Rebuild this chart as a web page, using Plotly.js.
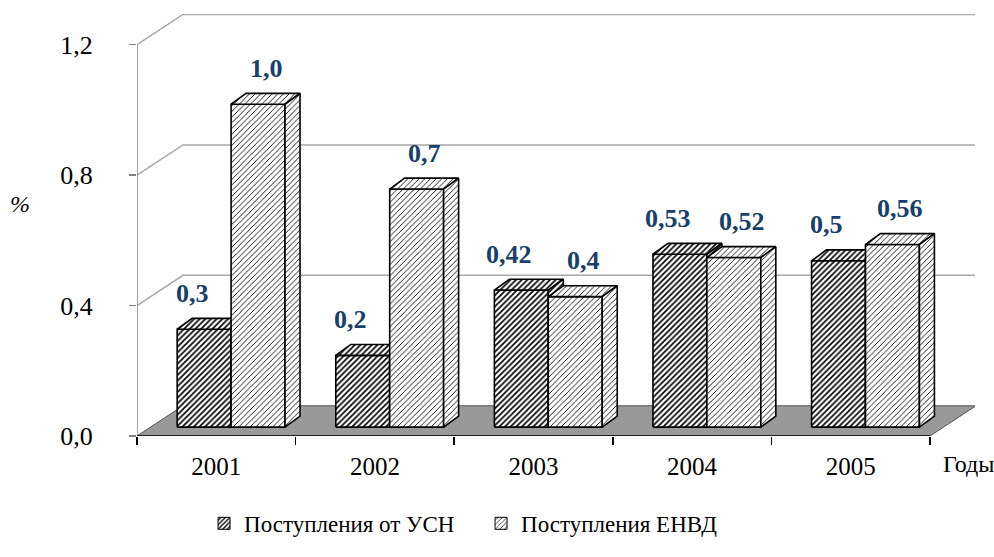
<!DOCTYPE html>
<html>
<head>
<meta charset="utf-8">
<script src="https://cdn.plot.ly/plotly-3.0.1.min.js"></script>
<style>html,body{margin:0;padding:0;background:#fff;}#chart{width:994px;height:557px;}</style>
</head>
<body>
<div id="chart"></div>
<script>
// ---- data ----
var years = ['2001', '2002', '2003', '2004', '2005'];
var usnValues = [0.30, 0.22, 0.42, 0.53, 0.51];
var envdValues = [0.99, 0.73, 0.40, 0.52, 0.56];
var usnLabels = ['0,3', '0,2', '0,42', '0,53', '0,5'];
var envdLabels = ['1,0', '0,7', '0,4', '0,52', '0,56'];
var seriesNames = ['Поступления от УСН', 'Поступления ЕНВД'];
var yTickVals = [0, 0.4, 0.8, 1.2];
var yTickText = ['0,0', '0,4', '0,8', '1,2'];

// ---- geometry (pixel scales of the axes) ----
var PX = 158.6;          // px per x unit
var PY = 329.17;         // px per y unit
var XMAX = 838 / PX;
var YMAX = 426 / PY;
var wallDX = 46 / PX, wallDY = 30.5 / PY;   // depth of the whole box
var fX = 14 / PX, fY = 9 / PY;              // bar front plane offset
var dX = 15 / PX, dY = 11 / PY;             // bar depth
var gap = 0.165, bw = 0.34;
var font = 'Liberation Serif';

var styles = [
  {shape: '/', fgcolor: '#000', bgcolor: '#fff', size: 4, solidity: 0.42},
  {shape: '/', fgcolor: '#000', bgcolor: '#fff', size: 4, solidity: 0.22}
];

var traces = [];
function face(pts, st) {
  var xs = pts.map(function (p) { return p[0]; });
  var ys = pts.map(function (p) { return p[1]; });
  xs.push(pts[0][0]); ys.push(pts[0][1]);
  traces.push({
    type: 'scatter', mode: 'lines', x: xs, y: ys, fill: 'toself',
    fillcolor: '#fff', fillpattern: st,
    line: {color: '#000', width: 1.6}, hoverinfo: 'skip', showlegend: false
  });
}
var annotations = [];
var series = [usnValues, envdValues];
var labels = [usnLabels, envdLabels];
var labShift = [-12, 8];
for (var i = 0; i < years.length; i++) {
  for (var s = 0; s < 2; s++) {
    var v = series[s][i];
    var x0 = i + gap + s * bw + fX, x1 = x0 + bw;
    var b = fY, t = fY + v;
    var st = styles[s];
    face([[x0, b], [x1, b], [x1, t], [x0, t]], st);
    face([[x0, t], [x1, t], [x1 + dX, t + dY], [x0 + dX, t + dY]], st);
    face([[x1, b], [x1 + dX, b + dY], [x1 + dX, t + dY], [x1, t]], st);
    annotations.push({
      x: (x0 + x1) / 2, y: t, xref: 'x', yref: 'y', text: labels[s][i],
      showarrow: false, xanchor: 'center', yanchor: 'middle',
      xshift: labShift[s], yshift: 36,
      font: {family: font, size: 26, color: '#17406d', weight: 'bold'}
    });
  }
}
// legend entries
for (var s2 = 0; s2 < 2; s2++) {
  traces.push({
    type: 'bar', x: [null], y: [null], name: seriesNames[s2],
    marker: {color: '#fff', line: {color: '#000', width: 1}, pattern: styles[s2]},
    showlegend: true
  });
}

var shapes = [];
shapes.push({
  type: 'path', xref: 'x', yref: 'y', layer: 'below',
  path: 'M0,0 L5,0 L' + (5 + wallDX) + ',' + wallDY + ' L' + wallDX + ',' + wallDY + ' Z',
  fillcolor: '#999999', line: {color: '#555', width: 1}
});
yTickVals.forEach(function (v) {
  if (v === 0) return;
  shapes.push({
    type: 'path', xref: 'x', yref: 'y', layer: 'below',
    path: 'M0,' + v + ' L' + wallDX + ',' + (v + wallDY) + ' L' + XMAX + ',' + (v + wallDY),
    line: {color: '#a8a8a8', width: 1.5}
  });
});
shapes.push({type: 'line', xref: 'x', yref: 'y', x0: 0, x1: 0, y0: 0, y1: 1.2,
  line: {color: '#808080', width: 1.5}});
shapes.push({type: 'line', xref: 'x', yref: 'y', x0: 0, x1: 5, y0: 0, y1: 0,
  line: {color: '#000', width: 1.5}});

annotations.push({
  xref: 'paper', yref: 'paper', x: -0.14, y: 0.55, text: '%', showarrow: false,
  xanchor: 'center', yanchor: 'middle',
  font: {family: font, size: 24, color: '#000', style: 'italic'}
});
annotations.push({
  xref: 'paper', yref: 'paper', x: 0.992, y: -0.066, text: 'Годы', showarrow: false,
  xanchor: 'center', yanchor: 'middle',
  font: {family: font, size: 24, color: '#000'}
});

var layout = {
  width: 994, height: 557,
  margin: {l: 137, r: 19, t: 14, b: 117},
  paper_bgcolor: '#fff', plot_bgcolor: 'rgba(0,0,0,0)',
  font: {family: font},
  showlegend: true,
  legend: {
    orientation: 'h', x: 0.08, y: -0.207, xanchor: 'left', yanchor: 'middle',
    entrywidth: 232, font: {family: font, size: 23, color: '#000'}
  },
  xaxis: {
    range: [0, XMAX], showgrid: false, zeroline: false, showline: false,
    tickvals: years.map(function (y, k) { return k + 0.5; }), ticktext: years,
    ticks: '', ticklabelstandoff: 13,
    tickfont: {family: font, size: 25, color: '#000'},
    minor: {tickvals: [0, 1, 2, 3, 4, 5], ticks: 'outside', ticklen: 8, tickcolor: '#000', tickwidth: 1.5, showgrid: false},
    fixedrange: true
  },
  yaxis: {
    range: [0, YMAX], showgrid: false, zeroline: false, showline: false,
    tickvals: yTickVals, ticktext: yTickText,
    ticks: 'outside', ticklen: 7, tickcolor: '#808080', tickwidth: 1.5,
    ticklabelstandoff: 31,
    tickfont: {family: font, size: 26, color: '#000'},
    fixedrange: true
  },
  shapes: shapes,
  annotations: annotations
};
Plotly.newPlot('chart', traces, layout, {displayModeBar: false, staticPlot: true});
</script>
</body>
</html>
